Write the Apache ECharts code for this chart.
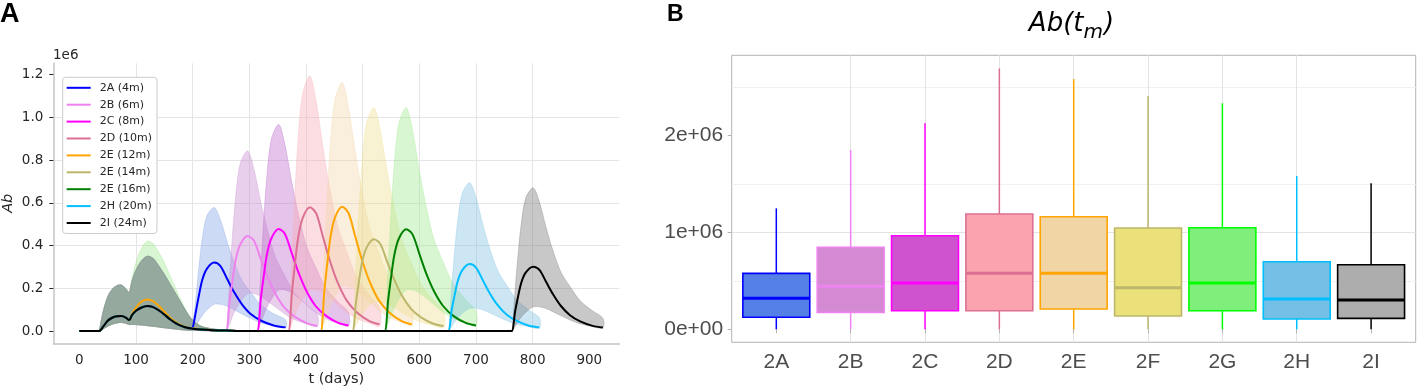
<!DOCTYPE html>
<html>
<head>
<meta charset="utf-8">
<script src="https://cdn.jsdelivr.net/npm/echarts@6/dist/echarts.min.js"></script>
<style>
  html, body { margin: 0; padding: 0; background: #fff; }
  #chart { width: 1418px; height: 388px; }
</style>
</head>
<body>
<div id="chart"></div>
<script>
// ---- panel A: antibody curves (values in units of 1e6) ----
var lineNames = ['2A (4m)', '2B (6m)', '2C (8m)', '2D (10m)', '2E (12m)', '2E (14m)', '2E (16m)', '2H (20m)', '2I (24m)']
var lineColors = ['#0000FF', '#EE82EE', '#FF00FF', '#DB7093', '#FFA500', '#BDB76B', '#008000', '#00BFFF', '#000000']
var bandColors = [
  'rgba(130,162,230,0.4)', 'rgba(197,137,207,0.4)', 'rgba(187,107,202,0.4)',
  'rgba(247,172,182,0.4)', 'rgba(242,212,167,0.4)', 'rgba(237,223,142,0.4)',
  'rgba(157,232,139,0.4)', 'rgba(127,192,227,0.4)', 'rgba(117,117,117,0.4)'
]

// first doses, shared by every scenario
var earlyDays = [0, 33, 35, 42, 50, 58, 66, 74, 82, 88, 93, 100, 110, 120, 130, 140, 150, 160, 170, 180, 190, 200, 215, 235, 260, 300]
var earlyMedian = [0, 0, 0, 0.02, 0.048, 0.062, 0.069, 0.07, 0.063, 0.051, 0.075, 0.095, 0.11, 0.117, 0.112, 0.097, 0.077, 0.055, 0.037, 0.024, 0.015, 0.011, 0.007, 0.004, 0.002, 0]
var earlyMedian12m = [0, 0, 0, 0.02, 0.048, 0.062, 0.069, 0.07, 0.063, 0.051, 0.08, 0.11, 0.138, 0.148, 0.14, 0.118, 0.09, 0.063, 0.042, 0.027, 0.017, 0.012, 0.008, 0.004, 0.002, 0]
var earlyQ1 = [0, 0, 0, 0.01, 0.022, 0.032, 0.038, 0.04, 0.036, 0.03, 0.031, 0.03, 0.028, 0.025, 0.022, 0.019, 0.015, 0.012, 0.009, 0.006, 0.004, 0.003, 0.002, 0.001, 0.0005, 0]
var earlyQ3 = [0, 0, 0, 0.09, 0.16, 0.195, 0.212, 0.215, 0.198, 0.18, 0.235, 0.285, 0.33, 0.35, 0.34, 0.305, 0.265, 0.22, 0.175, 0.13, 0.085, 0.05, 0.022, 0.01, 0.004, 0]
var earlyQ3_16m = [0, 0, 0, 0.09, 0.16, 0.195, 0.212, 0.215, 0.198, 0.18, 0.25, 0.32, 0.39, 0.42, 0.41, 0.37, 0.32, 0.26, 0.2, 0.14, 0.09, 0.052, 0.023, 0.01, 0.004, 0]

// booster: [day, median, q1, q3]
var boost2A = [[201, 0.011, 0.003, 0.048], [206, 0.096, 0.023, 0.162], [211, 0.166, 0.048, 0.301], [217, 0.24, 0.073, 0.434], [225, 0.291, 0.098, 0.538], [238, 0.32, 0.125, 0.578], [249, 0.304, 0.125, 0.52], [261, 0.243, 0.116, 0.416], [273, 0.182, 0.1, 0.324], [287, 0.125, 0.08, 0.237], [303, 0.078, 0.058, 0.179], [321, 0.048, 0.038, 0.121], [343, 0.026, 0.024, 0.081], [364, 0.017, 0.015, 0.052]]
var boost2B = [[258, 0, 0, 0], [260, 0, 0, 0], [265, 0.134, 0.032, 0.236], [270, 0.231, 0.067, 0.438], [276, 0.334, 0.102, 0.632], [284, 0.405, 0.137, 0.784], [297, 0.445, 0.175, 0.843], [308, 0.423, 0.175, 0.759], [320, 0.338, 0.163, 0.607], [332, 0.254, 0.14, 0.472], [346, 0.174, 0.112, 0.346], [362, 0.109, 0.081, 0.261], [380, 0.067, 0.053, 0.177], [402, 0.036, 0.033, 0.118], [420, 0.024, 0.021, 0.076]]
var boost2C = [[313, 0, 0, 0], [315, 0, 0, 0], [320, 0.143, 0.035, 0.271], [325, 0.248, 0.073, 0.503], [331, 0.358, 0.111, 0.725], [339, 0.434, 0.15, 0.899], [352, 0.477, 0.192, 0.967], [363, 0.453, 0.192, 0.87], [375, 0.363, 0.179, 0.696], [387, 0.272, 0.154, 0.542], [401, 0.186, 0.123, 0.396], [417, 0.117, 0.088, 0.3], [435, 0.072, 0.058, 0.203], [457, 0.038, 0.036, 0.135], [475, 0.026, 0.023, 0.087]]
var boost2D = [[368, 0, 0, 0], [370, 0, 0, 0], [375, 0.174, 0.035, 0.334], [380, 0.301, 0.073, 0.62], [386, 0.434, 0.111, 0.895], [394, 0.527, 0.15, 1.109], [407, 0.579, 0.192, 1.193], [418, 0.55, 0.192, 1.074], [430, 0.44, 0.179, 0.859], [442, 0.33, 0.154, 0.668], [456, 0.226, 0.123, 0.489], [472, 0.142, 0.088, 0.37], [490, 0.087, 0.058, 0.251], [512, 0.046, 0.036, 0.167], [530, 0.031, 0.023, 0.107]]
var boost2E = [[425, 0, 0, 0], [427, 0, 0, 0], [432, 0.174, 0.038, 0.325], [437, 0.302, 0.079, 0.604], [443, 0.436, 0.121, 0.872], [451, 0.529, 0.163, 1.081], [464, 0.581, 0.209, 1.162], [475, 0.552, 0.209, 1.046], [487, 0.442, 0.194, 0.837], [499, 0.331, 0.167, 0.651], [513, 0.227, 0.134, 0.476], [529, 0.142, 0.096, 0.36], [547, 0.087, 0.063, 0.244], [569, 0.046, 0.04, 0.163], [587, 0.031, 0.025, 0.105]]
var boost2F = [[481, 0, 0, 0], [483, 0, 0, 0], [488, 0.129, 0.025, 0.293], [493, 0.223, 0.052, 0.543], [499, 0.322, 0.079, 0.784], [507, 0.39, 0.107, 0.972], [520, 0.429, 0.137, 1.045], [531, 0.408, 0.137, 0.941], [543, 0.326, 0.127, 0.752], [555, 0.245, 0.11, 0.585], [569, 0.167, 0.088, 0.428], [585, 0.105, 0.063, 0.324], [603, 0.064, 0.041, 0.219], [625, 0.034, 0.026, 0.146], [643, 0.023, 0.016, 0.094]]
var boost2G = [[538, 0, 0, 0], [540, 0, 0, 0], [545, 0.143, 0.035, 0.293], [550, 0.248, 0.073, 0.543], [556, 0.357, 0.111, 0.784], [564, 0.433, 0.15, 0.972], [577, 0.476, 0.192, 1.045], [588, 0.452, 0.192, 0.941], [600, 0.362, 0.179, 0.752], [612, 0.271, 0.154, 0.585], [626, 0.186, 0.123, 0.428], [642, 0.117, 0.088, 0.324], [660, 0.071, 0.058, 0.219], [682, 0.038, 0.036, 0.146], [700, 0.026, 0.023, 0.094]]
var boost2H = [[650, 0, 0, 0], [652, 0, 0, 0], [657, 0.094, 0.019, 0.194], [662, 0.163, 0.04, 0.361], [668, 0.235, 0.061, 0.521], [676, 0.285, 0.083, 0.645], [689, 0.313, 0.106, 0.694], [700, 0.297, 0.106, 0.625], [712, 0.238, 0.099, 0.5], [724, 0.178, 0.085, 0.389], [738, 0.122, 0.068, 0.285], [754, 0.077, 0.049, 0.215], [772, 0.047, 0.032, 0.146], [794, 0.025, 0.02, 0.097], [812, 0.017, 0.013, 0.062]]
var boost2I = [[762, 0, 0, 0], [764, 0, 0, 0], [769, 0.09, 0.02, 0.188], [774, 0.157, 0.043, 0.348], [780, 0.226, 0.066, 0.503], [788, 0.274, 0.088, 0.623], [801, 0.301, 0.113, 0.67], [812, 0.286, 0.113, 0.603], [824, 0.229, 0.105, 0.482], [836, 0.172, 0.09, 0.375], [850, 0.117, 0.072, 0.275], [866, 0.074, 0.052, 0.208], [884, 0.045, 0.034, 0.141], [906, 0.024, 0.021, 0.094], [924, 0.016, 0.014, 0.06]]
var boosts = [boost2A, boost2B, boost2C, boost2D, boost2E, boost2F, boost2G, boost2H, boost2I]

// ---- panel B: Ab(t_m) boxes (units of 1e6) ----
var boxNames = ['2A', '2B', '2C', '2D', '2E', '2F', '2G', '2H', '2I']
var boxMin = [0, 0, 0, 0, 0, 0, 0, 0, 0]
var boxQ1 = [0.124, 0.175, 0.192, 0.192, 0.209, 0.137, 0.192, 0.106, 0.113]
var boxMedian = [0.32, 0.443, 0.477, 0.577, 0.577, 0.429, 0.477, 0.312, 0.302]
var boxQ3 = [0.577, 0.845, 0.965, 1.189, 1.161, 1.044, 1.047, 0.697, 0.666]
var boxMax = [1.247, 1.848, 2.124, 2.69, 2.58, 2.405, 2.33, 1.58, 1.505]
var boxFill = ['#5580E6', '#D38AD3', '#CF52CF', '#FCA3B0', '#F2D5A5', '#EAE17A', '#80EE7A', '#73BFE6', '#ADADAD']
var boxLine = ['#0000FF', '#EE82EE', '#FF00FF', '#DB7093', '#FFA500', '#BDB76B', '#00FF00', '#00BFFF', '#000000']

var DEJAVU = '"DejaVu Sans", sans-serif'
var LIB = '"Liberation Sans", Arial, sans-serif'

function seriesRows(k) {
  var boost = boosts[k]
  var start = boost[0][0]
  var med = k === 4 ? earlyMedian12m : earlyMedian
  var q3 = k === 6 ? earlyQ3_16m : earlyQ3
  var rows = []
  for (var i = 0; i < earlyDays.length; i++) {
    if (earlyDays[i] < start) rows.push([earlyDays[i], med[i], earlyQ1[i], q3[i]])
  }
  return rows.concat(boost)
}

// interquartile band as one polygon through the axis scales
function bandRenderer(rows, color) {
  return function (params, api) {
    if (params.dataIndex !== 0) return null
    var pts = []
    var i
    for (i = 0; i < rows.length; i++) pts.push(api.coord([rows[i][0], rows[i][3]]))
    for (i = rows.length - 1; i >= 0; i--) pts.push(api.coord([rows[i][0], rows[i][2]]))
    return {
      type: 'polygon',
      shape: { points: pts, smooth: 0.3 },
      style: { fill: color, stroke: color, lineWidth: 0.8 }
    }
  }
}

var series = []
var k, rows
for (k = 0; k < boosts.length; k++) {
  rows = seriesRows(k)
  series.push({
    type: 'custom', silent: true, z: 1,
    encode: { x: 0, y: [2, 3] },
    data: rows,
    renderItem: bandRenderer(rows, bandColors[k])
  })
}
for (k = 0; k < boosts.length; k++) {
  rows = seriesRows(k)
  series.push({
    name: lineNames[k], type: 'line', symbol: 'none', smooth: 0.3, z: 3,
    color: lineColors[k],
    lineStyle: { width: 2, color: lineColors[k] },
    data: rows.map(function (r) { return [r[0], r[1]] })
  })
}

var boxData = boxNames.map(function (n, i) {
  return [i + 1, boxMin[i], boxQ1[i], boxMedian[i], boxQ3[i], boxMax[i]]
})
series.push({
  type: 'custom', xAxisIndex: 1, yAxisIndex: 1, silent: true,
  encode: { x: 0, y: [1, 2, 3, 4, 5] },
  data: boxData,
  renderItem: function (params, api) {
    var x = api.value(0)
    var lo = api.coord([x, api.value(1)])
    var q1 = api.coord([x, api.value(2)])
    var md = api.coord([x, api.value(3)])
    var q3 = api.coord([x, api.value(4)])
    var hi = api.coord([x, api.value(5)])
    var half = api.size([1, 0])[0] * 0.45
    var fill = boxFill[params.dataIndex]
    var stroke = boxLine[params.dataIndex]
    return {
      type: 'group',
      children: [
        { type: 'line', shape: { x1: lo[0], y1: lo[1], x2: q1[0], y2: q1[1] }, style: { stroke: stroke, lineWidth: 1.5 } },
        { type: 'line', shape: { x1: q3[0], y1: q3[1], x2: hi[0], y2: hi[1] }, style: { stroke: stroke, lineWidth: 1.5 } },
        { type: 'rect', shape: { x: q3[0] - half, y: q3[1], width: half * 2, height: q1[1] - q3[1] }, style: { fill: fill, stroke: stroke, lineWidth: 1.6 } },
        { type: 'line', shape: { x1: md[0] - half, y1: md[1], x2: md[0] + half, y2: md[1] }, style: { stroke: stroke, lineWidth: 3 } }
      ]
    }
  }
})

// title pieces Ab(t_m), measured so they sit side by side
var ctx = document.createElement('canvas').getContext('2d')
var fMain = 'italic 26px "DejaVu Sans"'
var fSub = 'italic 20px "DejaVu Sans"'
ctx.font = fMain
var w1 = ctx.measureText('Ab(t').width
var w3 = ctx.measureText(')').width
ctx.font = fSub
var w2 = ctx.measureText('m').width
var tx0 = 1071.5 - (w1 + w2 + w3 + 1) / 2

var chart = echarts.init(document.getElementById('chart'))
chart.setOption({
  animation: false,
  backgroundColor: '#ffffff',
  legend: {
    data: lineNames,
    orient: 'vertical',
    left: 62.7,
    top: 77.3,
    icon: 'rect',
    itemWidth: 24,
    itemHeight: 2,
    itemGap: 3.9,
    padding: [4, 5, 4, 4],
    backgroundColor: '#ffffff',
    borderColor: '#CCCCCC',
    borderWidth: 1,
    borderRadius: 3,
    selectedMode: false,
    textStyle: { fontFamily: DEJAVU, fontSize: 11, color: '#262626', lineHeight: 13, padding: [0, 0, 0, 4] }
  },
  grid: [
    { left: 53.3, top: 63.3, width: 566, height: 280, outerBoundsMode: 'none', containLabel: false },
    { left: 731.7, top: 55.3, width: 684, height: 287, outerBoundsMode: 'none', containLabel: false, show: true, borderColor: '#B3B3B3', borderWidth: 1, backgroundColor: 'rgba(0,0,0,0)' }
  ],
  xAxis: [
    {
      type: 'value', gridIndex: 0, min: -46, max: 953, minInterval: 100, maxInterval: 100,
      name: 't (days)', nameLocation: 'middle', nameGap: 28,
      nameTextStyle: { fontFamily: DEJAVU, fontSize: 14.5, color: '#262626' },
      axisLine: { show: true, onZero: false, lineStyle: { color: '#C4C4C4', width: 1.5 } },
      axisTick: { show: false, customValues: [0, 100, 200, 300, 400, 500, 600, 700, 800, 900] },
      axisLabel: {
        customValues: [0, 100, 200, 300, 400, 500, 600, 700, 800, 900],
        margin: 10, fontFamily: DEJAVU, fontSize: 13.5, color: '#262626',
        formatter: function (v) { return Math.abs(v / 100 - Math.round(v / 100)) < 1e-6 ? String(Math.round(v)) : '' }
      },
      splitLine: { show: true, showMinLine: false, showMaxLine: false, lineStyle: { color: '#E5E5E5', width: 1 } }
    },
    {
      type: 'value', gridIndex: 1, min: 0.4, max: 9.6, minInterval: 1, maxInterval: 1,
      axisLine: { show: false },
      axisTick: { show: true, length: 4, customValues: [1, 2, 3, 4, 5, 6, 7, 8, 9], lineStyle: { color: '#B3B3B3' } },
      axisLabel: {
        customValues: [1, 2, 3, 4, 5, 6, 7, 8, 9],
        margin: 9, fontFamily: LIB, fontSize: 21, color: '#4D4D4D',
        formatter: function (v) {
          var i = Math.round(v)
          return Math.abs(v - i) < 1e-6 && i >= 1 && i <= 9 ? boxNames[i - 1] : ''
        }
      },
      splitLine: { show: true, showMinLine: false, showMaxLine: false, lineStyle: { color: '#E3E3E3', width: 1 } }
    }
  ],
  yAxis: [
    {
      type: 'value', gridIndex: 0, min: -0.0575, max: 1.2525, minInterval: 0.2, maxInterval: 0.2,
      name: 'Ab', nameLocation: 'middle', nameGap: 38, nameRotate: 90,
      nameTextStyle: { fontFamily: DEJAVU, fontSize: 14.5, fontStyle: 'italic', color: '#262626' },
      axisLine: { show: true, onZero: false, lineStyle: { color: '#C4C4C4', width: 1.5 } },
      axisTick: { show: true, length: 4, customValues: [0, 0.2, 0.4, 0.6, 0.8, 1.0, 1.2], lineStyle: { color: '#262626', width: 1 } },
      axisLabel: {
        customValues: [0, 0.2, 0.4, 0.6, 0.8, 1.0, 1.2],
        margin: 10, fontFamily: DEJAVU, fontSize: 13.5, color: '#262626',
        formatter: function (v) { return Math.abs(v * 5 - Math.round(v * 5)) < 1e-6 ? v.toFixed(1) : '' }
      },
      splitLine: { show: true, showMinLine: false, showMaxLine: false, lineStyle: { color: '#E5E5E5', width: 1 } }
    },
    {
      type: 'value', gridIndex: 1, min: -0.134, max: 2.825, minInterval: 1, maxInterval: 1,
      axisLine: { show: false },
      axisTick: { show: true, length: 4, customValues: [0, 1, 2], lineStyle: { color: '#B3B3B3' } },
      minorTick: { show: false, splitNumber: 2 },
      minorSplitLine: { show: true, lineStyle: { color: '#F0F0F0', width: 1 } },
      axisLabel: {
        customValues: [0, 1, 2],
        margin: 8.5, fontFamily: LIB, fontSize: 21, color: '#4D4D4D',
        formatter: function (v) {
          var i = Math.round(v)
          if (Math.abs(v - i) > 1e-6) return ''
          return i === 0 ? '0e+00' : i + 'e+06'
        }
      },
      splitLine: { show: true, showMinLine: false, showMaxLine: false, lineStyle: { color: '#E3E3E3', width: 1 } }
    }
  ],
  graphic: [
    { type: 'text', x: 0, y: 15, style: { text: 'A', font: 'bold 27px "Liberation Sans"', fill: '#000', verticalAlign: 'middle' } },
    { type: 'text', x: 667, y: 15, style: { text: 'B', font: 'bold 23px "Liberation Sans"', fill: '#000', verticalAlign: 'middle' } },
    { type: 'text', x: 53, y: 55, style: { text: '1e6', font: '13.5px "DejaVu Sans"', fill: '#262626', verticalAlign: 'middle' } },
    { type: 'text', x: tx0, y: 24.5, style: { text: 'Ab(t', font: fMain, fill: '#000', verticalAlign: 'middle' } },
    { type: 'text', x: tx0 + w1, y: 33, style: { text: 'm', font: fSub, fill: '#000', verticalAlign: 'middle' } },
    { type: 'text', x: tx0 + w1 + w2 + 1, y: 24.5, style: { text: ')', font: fMain, fill: '#000', verticalAlign: 'middle' } }
  ],
  series: series
})
</script>
</body>
</html>
